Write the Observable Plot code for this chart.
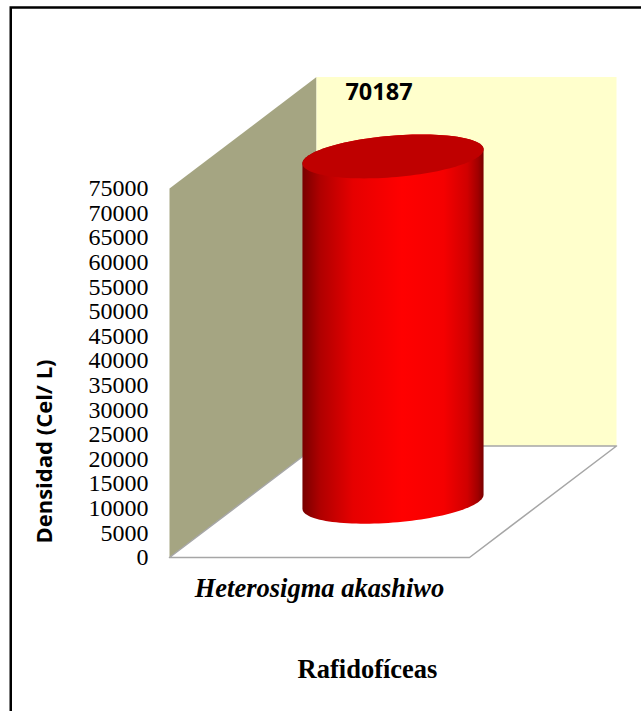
<!DOCTYPE html>
<html><head><meta charset="utf-8">
<script src="https://cdn.jsdelivr.net/npm/d3@7"></script>
<script src="https://cdn.jsdelivr.net/npm/@observablehq/plot@0.6"></script>
<style>html,body{margin:0;padding:0;background:#fff}svg{display:block}</style>
</head><body><div id="chart"></div>
<script>
const categories = ["Heterosigma akashiwo"];
const values = [70187];
const yTicks = [0,5000,10000,15000,20000,25000,30000,35000,40000,45000,50000,55000,60000,65000,70000,75000];
const groupTitle = "Rafidofíceas";
const yTitle = "Densidad (Cel/ L)";
const yMax = 75000;
// oblique 3-D projection: x in [0,1], depth in [0,1]
const depthX = 0.49, depthY = 22660;
const proj = (x, v, d) => ({x: x + d * depthX, y: v + d * depthY});
const poly = (pts) => pts.map(([x, v, d]) => proj(x, v, d));
const leftWall = poly([[0,0,0],[0,yMax,0],[0,yMax,1],[0,0,1],[0,0,0]]);
const backWall = poly([[0,0,1],[0,yMax,1],[1,yMax,1],[1,0,1],[0,0,1]]);
const floor = poly([[0,0,0],[1,0,0],[1,0,1],[0,0,1],[0,0,0]]);
const cx = 0.5, cd = 0.5, rx = 0.286, rd = 0.197;
const angles = d3.range(0, 361, 3).map(a => a * Math.PI / 180);
const ring = (v) => angles.map(t => proj(cx + rx * Math.cos(t), v, cd + rd * Math.sin(t)));
const top_ = ring(values[0]);
// silhouette: tangent angles where the projected x is extreme
const tt = Math.atan2(rd * depthX, rx);
const arc = (v, a0, a1) => d3.range(0, 61).map(i => { const t = a0 + (a1 - a0) * i / 60; return proj(cx + rx * Math.cos(t), v, cd + rd * Math.sin(t)); });
const body = [...arc(values[0], tt, tt + Math.PI), ...arc(0, tt + Math.PI, tt + 2 * Math.PI)];
const xy = {x: "x", y: "y"};
const chart = Plot.plot({
  width: 641, height: 711,
  marginLeft: 169, marginRight: 172, marginTop: 188, marginBottom: 154,
  x: {domain: [0, 1], axis: null},
  y: {domain: [0, yMax], axis: null},
  style: {background: "#fff", overflow: "visible", fontFamily: "Liberation Serif"},
  marks: [
    () => { const s = d3.create("svg:defs");
      const g = s.append("linearGradient").attr("id", "cyl");
      [[0,"#780000"],[0.1,"#b00000"],[0.28,"#e60000"],[0.55,"#ff0000"],[0.78,"#f50000"],[0.91,"#d00000"],[0.97,"#a00000"],[1,"#780000"]]
        .forEach(([o,c]) => g.append("stop").attr("offset", o).attr("stop-color", c));
      return s.node(); },
    Plot.line(leftWall, {...xy, fill: "#a5a582", stroke: "none"}),
    Plot.line(backWall, {...xy, fill: "#ffffcc", stroke: "none"}),
    Plot.line(floor, {...xy, fill: "#ffffff", stroke: "#a6a6a6", strokeWidth: 1.5}),
    Plot.line(body, {...xy, fill: "url(#cyl)", stroke: "none"}),
    Plot.line(top_, {...xy, fill: "#bf0000", stroke: "none"}),
    Plot.text(yTicks, {x: 0, y: d => d, dx: -21, text: d => String(d), textAnchor: "end",
      fontFamily: "Liberation Serif", fontSize: 24, fill: "#000"}),
    Plot.text(values, {x: 0.5, y: yMax, dx: 59.5, dy: -96, text: d => String(d),
      fontFamily: "Open Sans", fontWeight: 700, fontSize: 23.5, fill: "#000"}),
    Plot.text(categories, {x: 0.5, y: 0, dy: 31, text: d => d,
      fontFamily: "Liberation Serif", fontWeight: 700, fontStyle: "italic", fontSize: 26.5, fill: "#000"}),
    Plot.text([groupTitle], {x: 0.5, y: 0, dx: 48, dy: 112, text: d => d,
      fontFamily: "Liberation Serif", fontWeight: 700, fontSize: 26.5, fill: "#000"}),
    Plot.text([yTitle], {x: 0, y: 0, dx: -124.5, dy: -106, rotate: -90, text: d => d, fontFamily: "Open Sans",
      fontWeight: 700, fontSize: 22, fill: "#000"})
  ]
});
const wrap = document.getElementById("chart");
wrap.appendChild(chart);
const frame = document.createElementNS("http://www.w3.org/2000/svg","rect");
frame.setAttribute("x", 10.75); frame.setAttribute("y", 7.5); frame.setAttribute("width", 640); frame.setAttribute("height", 714);
frame.setAttribute("fill", "none"); frame.setAttribute("stroke", "#000"); frame.setAttribute("stroke-width", 2.5);
chart.appendChild(frame);
chart.style.overflow = "hidden";
</script></body></html>
